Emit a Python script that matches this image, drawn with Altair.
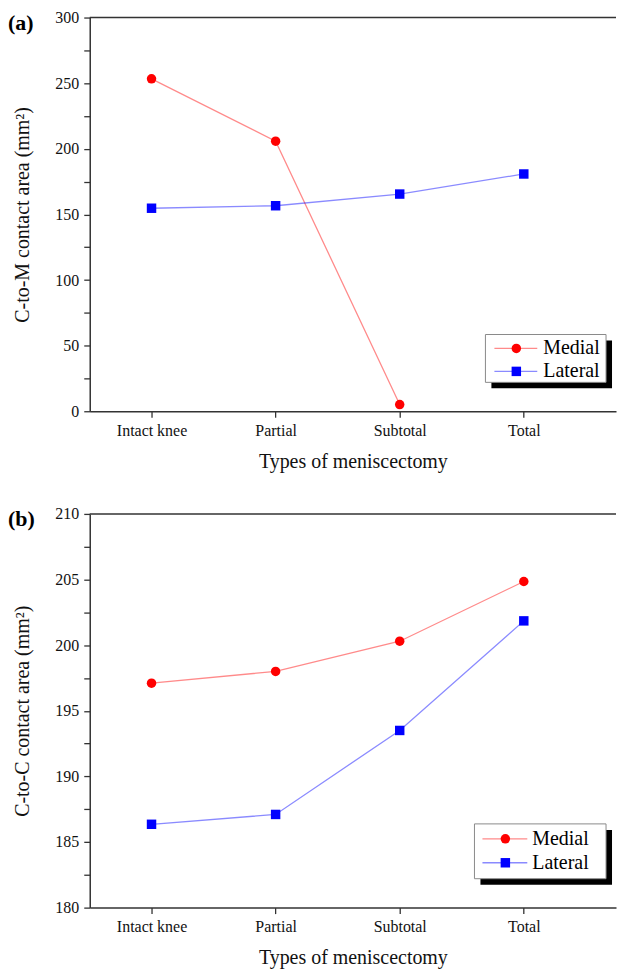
import altair as alt
import pandas as pd

categories = ["Intact knee", "Partial", "Subtotal", "Total"]
series_names = ["Medial", "Lateral"]

# Panel (a): C-to-M contact area (mm^2); Medial has no value for Total
medial_a = [253.3, 205.8, 5.1, None]
lateral_a = [154.7, 156.6, 165.5, 180.8]

# Panel (b): C-to-C contact area (mm^2)
medial_b = [197.1, 198.0, 200.3, 204.85]
lateral_b = [186.35, 187.1, 193.5, 201.85]

W = 528
H = 395
FONT = "Liberation Serif"

series_colors = ["#ff0000", "#0000ff"]
line_colors = ["#ff8a8a", "#8a8aff"]
shapes = ["circle", "square"]


def make_df(medial, lateral):
    rows = []
    for name, vals in zip(series_names, [medial, lateral]):
        for i, v in enumerate(vals):
            if v is not None:
                rows.append({"idx": i, "series": name, "value": v})
    return pd.DataFrame(rows)


label_expr = "[" + ",".join("'" + c + "'" for c in categories) + "][datum.value]"


def panel(letter, ytitle, medial, lateral, ydom, ytick_step, ylabel_step, leg):
    df = make_df(medial, lateral)
    yvals = []
    v = ydom[0]
    while v <= ydom[1] + 1e-9:
        yvals.append(round(v, 4))
        v += ytick_step
    x = alt.X(
        "idx:Q",
        scale=alt.Scale(domain=[-0.498, 3.743], nice=False, zero=False),
        axis=alt.Axis(
            values=[0, 1, 2, 3],
            labelExpr=label_expr,
            title="Types of meniscectomy",
            grid=False,
            tickSize=6,
            labelPadding=5,
            titlePadding=13,
        ),
    )
    y = alt.Y(
        "value:Q",
        scale=alt.Scale(domain=ydom, nice=False, zero=False),
        axis=alt.Axis(
            values=yvals,
            labelExpr=f"datum.value % {ylabel_step} == 0 ? datum.label : ''",
            title=ytitle,
            grid=False,
            tickSize=6,
            labelPadding=5,
            titlePadding=22,
        ),
    )
    color = alt.Color(
        "series:N",
        scale=alt.Scale(domain=series_names, range=series_colors),
        legend=None,
    )
    base = alt.Chart(df)
    lines = base.mark_line(strokeWidth=1.3, opacity=0.46).encode(x=x, y=y, color=color, detail="series:N")
    pts = base.mark_point(filled=True, size=90, opacity=1).encode(
        x=x,
        y=y,
        color=color,
        shape=alt.Shape("series:N", scale=alt.Scale(domain=series_names, range=shapes), legend=None),
    )
    one = alt.Data(values=[{"k": 0}])
    top = alt.Chart(one).mark_rule(color="#333333", strokeWidth=1.5).encode(
        x=alt.value(0), x2=alt.value(W), y=alt.value(0)
    )
    tag = alt.Chart(one).mark_text(
        text=f"({letter})", font=FONT, fontSize=22, fontWeight="bold", align="left", baseline="middle"
    ).encode(x=alt.value(-82), y=alt.value(5))

    bx0, by0, bx1, by1 = leg["box"]
    shadow = alt.Chart(one).mark_rect(color="black").encode(
        x=alt.value(bx0 + 6), x2=alt.value(bx1 + 6), y=alt.value(by0 + 6), y2=alt.value(by1 + 6)
    )
    box = alt.Chart(one).mark_rect(fill="white", stroke="#8a8a8a", strokeWidth=1).encode(
        x=alt.value(bx0), x2=alt.value(bx1), y=alt.value(by0), y2=alt.value(by1)
    )
    legend_layers = [shadow, box]
    lx0, lx1, mx, tx = leg["x"]
    for k, name in enumerate(series_names):
        yy = leg["y"][k]
        legend_layers.append(
            alt.Chart(one).mark_rule(color=line_colors[k], strokeWidth=1.3).encode(
                x=alt.value(lx0), x2=alt.value(lx1), y=alt.value(yy)
            )
        )
        legend_layers.append(
            alt.Chart(one).mark_point(filled=True, size=90, opacity=1, shape=shapes[k], color=series_colors[k]).encode(
                x=alt.value(mx), y=alt.value(yy)
            )
        )
        legend_layers.append(
            alt.Chart(one).mark_text(text=name, font=FONT, fontSize=20, align="left", baseline="middle").encode(
                x=alt.value(tx), y=alt.value(yy)
            )
        )

    return alt.layer(lines, pts, top, tag, *legend_layers).properties(width=W, height=H)


pa = panel(
    "a", "C-to-M contact area (mm²)", medial_a, lateral_a, [0, 300], 25, 50,
    {"box": (397, 318, 518, 366), "x": (406, 449, 428, 455), "y": (332, 355)},
)
pb = panel(
    "b", "C-to-C contact area (mm²)", medial_b, lateral_b, [180, 210], 2.5, 5,
    {"box": (386, 311, 518, 366), "x": (394, 439, 417, 444), "y": (326, 350)},
)

chart = (
    alt.vconcat(pa, pb, spacing=35)
    .properties(padding={"left": 0, "top": 0, "right": 0, "bottom": 0}, background="white")
    .configure_view(stroke=None)
    .configure_axis(
        labelFont=FONT,
        titleFont=FONT,
        labelFontSize=16,
        titleFontSize=20,
        titleFontWeight="normal",
        labelColor="#111111",
        titleColor="#111111",
        domainColor="#333333",
        domainWidth=1.5,
        tickColor="#333333",
        tickWidth=1.3,
    )
)

chart.save("out.html", embed_options={"renderer": "svg", "actions": False})
